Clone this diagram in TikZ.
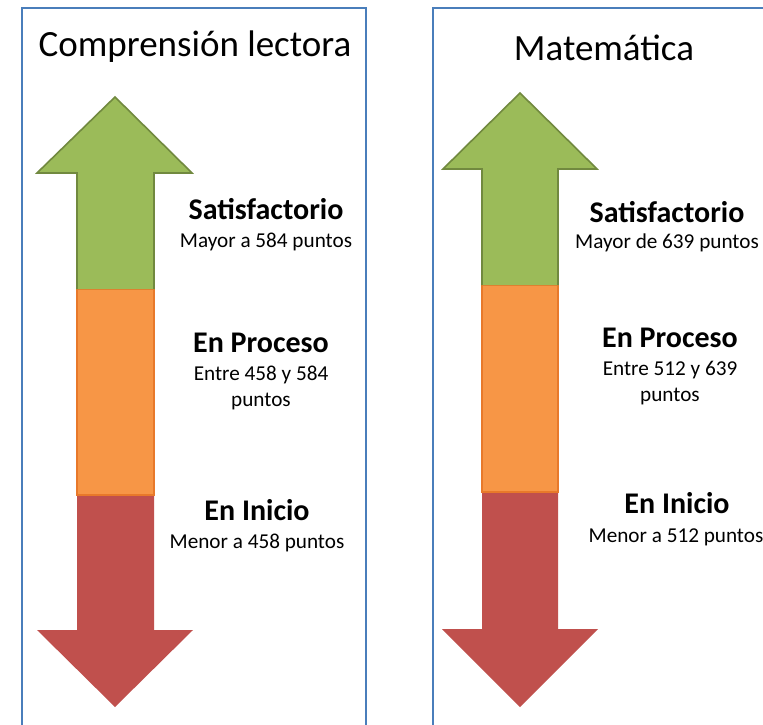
\documentclass[tikz,border=0pt]{standalone}
\usepackage{fontspec}
\setmainfont{Carlito}
\definecolor{boxblue}{HTML}{4A7EBB}
\definecolor{grfill}{HTML}{9BBB59}
\definecolor{grline}{HTML}{71893F}
\definecolor{orfill}{HTML}{F79646}
\definecolor{orline}{HTML}{E8792A}
\definecolor{rdfill}{HTML}{C0504D}
\begin{document}
\begin{tikzpicture}[x=1pt,y=-1pt,
  panel/.style={draw=boxblue,line width=2pt},
  greenpart/.style={fill=grfill,draw=grline,line width=1.6pt,line join=miter},
  orangepart/.style={fill=orfill,draw=orline,line width=1.6pt},
  redpart/.style={fill=rdfill},
  titletxt/.style={font=\fontsize{37}{40}\selectfont,anchor=base,inner sep=0pt},
  leveltxt/.style={font=\fontsize{30}{33}\selectfont\bfseries,anchor=base,inner sep=0pt},
  rangetxt/.style={font=\fontsize{21.2}{24}\selectfont,anchor=base,inner sep=0pt}]
\clip (0,0) rectangle (763,725);
\fill[white] (0,0) rectangle (763,725);
% panels
\draw[panel] (22,8) rectangle (366,760);
\draw[panel] (433,8) rectangle (800,760);
% left arrow
\fill[redpart] (77,495) -- (154,495) -- (154,630) -- (193,630) -- (115,707) -- (37,630) -- (77,630) -- cycle;
\draw[orangepart] (77,289) rectangle (154,495);
\draw[greenpart] (77,289) -- (77,173) -- (37,173) -- (115,97) -- (192,173) -- (154,173) -- (154,289);
% right arrow
\fill[redpart] (482,492) -- (558,492) -- (558,629) -- (598,629) -- (520,707) -- (442,629) -- (482,629) -- cycle;
\draw[orangepart] (482,285) rectangle (558,492);
\draw[greenpart] (482,285) -- (482,169) -- (443,169) -- (520,93) -- (597,169) -- (558,169) -- (558,285);
% texts left
\node[titletxt] (tl) at (195,57) {Comprensión lectora};
\node[leveltxt] (s1) at (266,219) {Satisfactorio};
\node[rangetxt] (s1r) at (266,247) {Mayor a 584 puntos};
\node[leveltxt] (p1) at (261,352) {En Proceso};
\node[rangetxt] (p1r) at (261,380) {Entre 458 y 584};
\node[rangetxt] (p1r2) at (261,406) {puntos};
\node[leveltxt] (i1) at (257,520) {En Inicio};
\node[rangetxt] (i1r) at (257,548) {Menor a 458 puntos};
% texts right
\node[titletxt] (tr) at (604,60) {Matemática};
\node[leveltxt] (s2) at (667,222) {Satisfactorio};
\node[rangetxt] (s2r) at (667,248) {Mayor de 639 puntos};
\node[leveltxt] (p2) at (670,347) {En Proceso};
\node[rangetxt] (p2r) at (670,375) {Entre 512 y 639};
\node[rangetxt] (p2r2) at (670,401) {puntos};
\node[leveltxt] (i2) at (677,513) {En Inicio};
\node[rangetxt] (i2r) at (676,542) {Menor a 512 puntos};
\end{tikzpicture}
\end{document}
